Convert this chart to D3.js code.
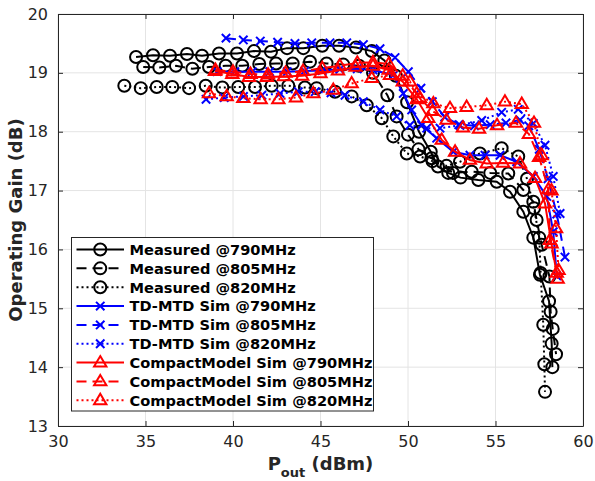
<!DOCTYPE html>
<html>
<head>
<meta charset="utf-8">
<script src="https://cdn.jsdelivr.net/npm/d3@7"></script>
<style>
  html, body { margin: 0; padding: 0; background: #fff; }
  svg { display: block; }
  text { font-family: "DejaVu Sans", sans-serif; }
</style>
</head>
<body>
<div id="chart"></div>
<script>
// Axis ticks
const xTicks = [30, 35, 40, 45, 50, 55, 60];
const yTicks = [13, 14, 15, 16, 17, 18, 19, 20];

// Measured gain (dB) vs output power (dBm)
const m790Pout = [34.46,35.43,36.40,37.37,38.23,39.20,40.23,41.20,42.17,43.09,44.02,45.10,46.06,47.03,47.93,48.65,49.30,49.95,50.63,51.30,51.71,52.30,53.00,54.02,55.07,55.83,56.59,57.16,57.54,58.06,58.21,58.25];
const m790Gain = [19.27,19.30,19.29,19.32,19.29,19.33,19.33,19.37,19.36,19.42,19.42,19.46,19.46,19.43,19.37,19.21,18.95,18.50,18.00,17.66,17.41,17.30,17.22,17.18,17.15,16.98,16.64,16.20,15.57,15.12,14.40,14.00];

const m805Pout = [34.87,35.79,36.74,37.68,38.63,39.58,40.53,41.50,42.46,43.41,44.40,45.35,46.30,47.20,48.00,48.82,49.35,50.00,50.60,51.35,52.57,53.64,54.70,55.73,56.59,57.16,57.35,57.64,58.08,58.15,58.27,58.46];
const m805Gain = [19.10,19.09,19.12,19.07,19.10,19.12,19.12,19.15,19.16,19.16,19.19,19.16,19.14,19.12,19.00,18.62,18.26,17.95,17.70,17.55,17.30,17.32,17.30,17.29,17.01,16.81,16.50,16.08,15.54,14.94,14.65,14.22];

const m820Pout = [33.79,34.73,35.64,36.53,37.49,38.44,39.39,40.30,41.26,42.21,43.16,44.11,44.78,45.83,46.78,47.64,48.50,49.16,49.93,50.69,51.40,52.20,52.97,54.11,55.35,56.30,56.80,57.20,57.50,57.58,57.73,57.79,57.83];
const m820Gain = [18.78,18.74,18.76,18.76,18.74,18.78,18.75,18.76,18.76,18.78,18.78,18.75,18.74,18.68,18.60,18.45,18.23,17.92,17.63,17.58,17.50,17.42,17.49,17.63,17.72,17.58,17.20,16.70,16.20,15.60,14.72,14.05,13.58];

// TD-MTD simulation
const td790Pout = [39.10,40.10,41.10,42.10,43.10,44.10,45.10,46.10,47.10,48.00,49.16,49.73,50.21,50.78,51.64,52.59,53.54,54.40,55.26,56.21,57.16,57.93,58.30,58.50];
const td790Gain = [19.02,19.02,19.02,19.02,19.02,19.03,19.04,19.06,19.07,19.05,18.96,18.65,18.37,18.11,17.89,17.66,17.60,17.60,17.60,17.49,17.24,16.90,16.30,15.55];

const td805Pout = [39.60,40.59,41.56,42.55,43.54,44.50,45.54,46.50,47.45,48.40,49.26,50.02,50.74,51.39,52.10,52.90,53.80,54.70,55.60,56.40,56.90,57.50,58.00,58.50,58.97];
const td805Gain = [19.59,19.56,19.54,19.52,19.50,19.51,19.51,19.51,19.48,19.41,19.26,19.02,18.74,18.51,18.25,18.12,18.10,18.12,18.15,18.20,18.10,17.70,17.20,16.60,15.87];

const td820Pout = [38.46,39.50,40.60,41.65,42.69,43.73,44.70,45.60,46.40,47.45,48.40,49.35,50.11,51.07,51.83,52.97,54.21,55.35,56.30,57.16,57.83,58.30,58.69];
const td820Gain = [18.55,18.58,18.60,18.62,18.65,18.68,18.68,18.66,18.62,18.51,18.37,18.26,18.11,18.06,18.06,18.11,18.19,18.33,18.38,18.14,17.77,17.24,16.61];

// Compact-model simulation
const cm790Pout = [38.97,39.96,40.91,41.93,42.91,43.95,45.00,46.00,47.00,48.00,48.90,49.70,50.50,51.16,51.93,52.69,53.54,54.50,55.43,56.40,57.26,57.83,58.20,58.55];
const cm790Gain = [19.03,18.98,18.93,18.93,18.94,18.95,18.99,19.04,19.10,19.12,19.05,18.85,18.55,18.23,17.86,17.66,17.52,17.46,17.47,17.46,17.21,16.78,16.10,15.50];

const cm805Pout = [39.00,40.00,41.00,42.00,43.00,44.00,45.10,46.10,47.10,48.00,48.90,49.70,50.69,51.40,52.20,53.14,54.06,55.09,56.17,56.91,57.49,58.02,58.11,58.50];
const cm805Gain = [19.05,19.02,18.98,18.97,19.00,19.03,19.08,19.12,19.17,19.18,19.15,18.95,18.57,18.35,18.20,18.07,18.05,18.11,18.15,17.96,17.57,17.02,16.16,15.60];

const cm820Pout = [38.63,39.64,40.59,41.58,42.59,43.60,44.59,45.73,46.78,47.93,48.97,50.11,50.50,51.45,52.40,53.35,54.50,55.54,56.50,57.20,57.64,58.20,58.46,58.60];
const cm820Gain = [18.65,18.60,18.57,18.55,18.55,18.58,18.65,18.71,18.82,18.91,18.96,18.85,18.65,18.48,18.40,18.42,18.45,18.51,18.47,18.15,17.60,17.00,16.36,15.65];

const seriesNames = [
  "Measured @790MHz", "Measured @805MHz", "Measured @820MHz",
  "TD-MTD Sim @790MHz", "TD-MTD Sim @805MHz", "TD-MTD Sim @820MHz",
  "CompactModel Sim @790MHz", "CompactModel Sim @805MHz", "CompactModel Sim @820MHz"
];

const W = 595, H = 481;
const x = d3.scaleLinear().domain([30, 60]).range([58, 583]);
const y = d3.scaleLinear().domain([13, 20]).range([426, 14]);

const svg = d3.select("#chart").append("svg").attr("width", W).attr("height", H);

const dashStyles = { solid: null, dashed: "10,6", dotted: "2,3" };

const series = [
  { name: seriesNames[0], px: m790Pout, py: m790Gain, color: "#000", dash: "solid", marker: "circle" },
  { name: seriesNames[1], px: m805Pout, py: m805Gain, color: "#000", dash: "dashed", marker: "circle" },
  { name: seriesNames[2], px: m820Pout, py: m820Gain, color: "#000", dash: "dotted", marker: "circle" },
  { name: seriesNames[3], px: td790Pout, py: td790Gain, color: "#0000ff", dash: "solid", marker: "x" },
  { name: seriesNames[4], px: td805Pout, py: td805Gain, color: "#0000ff", dash: "dashed", marker: "x" },
  { name: seriesNames[5], px: td820Pout, py: td820Gain, color: "#0000ff", dash: "dotted", marker: "x" },
  { name: seriesNames[6], px: cm790Pout, py: cm790Gain, color: "#ff0000", dash: "solid", marker: "tri" },
  { name: seriesNames[7], px: cm805Pout, py: cm805Gain, color: "#ff0000", dash: "dashed", marker: "tri" },
  { name: seriesNames[8], px: cm820Pout, py: cm820Gain, color: "#ff0000", dash: "dotted", marker: "tri" }
];

// Grid
const grid = svg.append("g");
xTicks.forEach(t => grid.append("line")
  .attr("x1", x(t)).attr("x2", x(t)).attr("y1", y(13)).attr("y2", y(20))
  .attr("stroke", "#e4e4e4").attr("stroke-width", 1));
yTicks.forEach(t => grid.append("line")
  .attr("x1", x(30)).attr("x2", x(60)).attr("y1", y(t)).attr("y2", y(t))
  .attr("stroke", "#e4e4e4").attr("stroke-width", 1));

// Markers
function drawMarker(g, cx, cy, kind, color) {
  if (kind === "circle") {
    g.append("circle").attr("cx", cx).attr("cy", cy).attr("r", 6)
      .attr("fill", "none").attr("stroke", color).attr("stroke-width", 2);
  } else if (kind === "x") {
    const s = 4.2;
    g.append("path").attr("d", `M${cx - s},${cy - s}L${cx + s},${cy + s}M${cx - s},${cy + s}L${cx + s},${cy - s}`)
      .attr("stroke", color).attr("stroke-width", 2).attr("fill", "none");
  } else {
    const s = 6.5;
    g.append("path").attr("d", `M${cx},${cy - s}L${cx + s * 0.95},${cy + s * 0.6}L${cx - s * 0.95},${cy + s * 0.6}Z`)
      .attr("stroke", color).attr("stroke-width", 2).attr("fill", "none").attr("stroke-linejoin", "miter");
  }
}

const line = d3.line().x(d => x(d[0])).y(d => y(d[1]));
const plot = svg.append("g");
series.forEach(s => {
  const pts = s.px.map((v, i) => [v, s.py[i]]);
  const g = plot.append("g");
  g.append("path").attr("d", line(pts)).attr("fill", "none")
    .attr("stroke", s.color).attr("stroke-width", 2)
    .attr("stroke-dasharray", dashStyles[s.dash]);
  pts.forEach(p => drawMarker(g, x(p[0]), y(p[1]), s.marker, s.color));
});

// Axes box with inward ticks
const axisColor = "#262626";
const fmt = d3.format("d");
const xAxisB = d3.axisBottom(x).tickValues(xTicks).tickFormat(fmt).tickSizeInner(-5).tickSizeOuter(0).tickPadding(10);
const xAxisT = d3.axisTop(x).tickValues(xTicks).tickSizeInner(-5).tickSizeOuter(0).tickFormat("");
const yAxisL = d3.axisLeft(y).tickValues(yTicks).tickFormat(fmt).tickSizeInner(-5).tickSizeOuter(0).tickPadding(10);
const yAxisR = d3.axisRight(y).tickValues(yTicks).tickSizeInner(-5).tickSizeOuter(0).tickFormat("");

function styleAxis(g) {
  g.select(".domain").attr("stroke", axisColor).attr("stroke-width", 1);
  g.selectAll(".tick line").attr("stroke", axisColor);
  g.selectAll(".tick text").attr("fill", axisColor).style("font-size", "16px")
    .style("font-family", "DejaVu Sans, sans-serif");
}
svg.append("g").attr("transform", `translate(0,${y(13)})`).call(xAxisB).call(styleAxis);
svg.append("g").attr("transform", `translate(0,${y(20)})`).call(xAxisT).call(styleAxis);
svg.append("g").attr("transform", `translate(${x(30)},0)`).call(yAxisL).call(styleAxis);
svg.append("g").attr("transform", `translate(${x(60)},0)`).call(yAxisR).call(styleAxis);

// Axis titles
svg.append("text").attr("transform", `translate(21.5,${(y(13) + y(20)) / 2}) rotate(-90)`)
  .attr("text-anchor", "middle").attr("fill", axisColor)
  .style("font-size", "18px").style("font-weight", "bold")
  .text("Operating Gain (dB)");

const xl = svg.append("text").attr("x", (x(30) + x(60)) / 2).attr("y", 470)
  .attr("text-anchor", "middle").attr("fill", axisColor)
  .style("font-size", "18px").style("font-weight", "bold");
xl.append("tspan").text("P");
xl.append("tspan").attr("dy", 7).style("font-size", "13px").text("out");
xl.append("tspan").attr("dy", -7).text(" (dBm)");

// Legend
const lg = svg.append("g");
lg.append("rect").attr("x", 71.5).attr("y", 237.5).attr("width", 302).attr("height", 173.5)
  .attr("fill", "#fff").attr("stroke", axisColor).attr("stroke-width", 1);
series.forEach((s, i) => {
  const cy = 249.5 + i * 18.85;
  lg.append("line").attr("x1", 76.5).attr("x2", 124).attr("y1", cy).attr("y2", cy)
    .attr("stroke", s.color).attr("stroke-width", 2).attr("stroke-dasharray", dashStyles[s.dash]);
  drawMarker(lg, 100.25, cy, s.marker, s.color);
  lg.append("text").attr("x", 129.5).attr("y", cy + 5.3).attr("fill", "#000")
    .style("font-size", "14.6px").style("font-weight", "bold").text(s.name);
});
</script>
</body>
</html>
